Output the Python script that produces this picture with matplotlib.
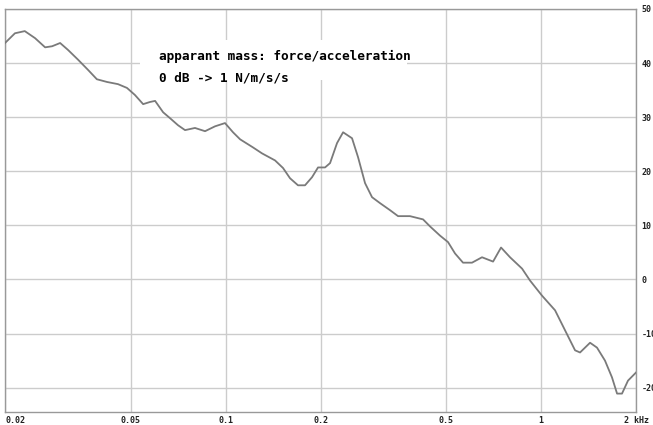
import matplotlib
matplotlib.use('Agg')
import matplotlib.pyplot as plt
from matplotlib.patches import Rectangle

# apparent mass response, frequency in kHz, level in dB
freq_khz = [0.0200, 0.0215, 0.0231, 0.0249, 0.0268, 0.0282, 0.0299, 0.0317, 0.0341,
            0.0367, 0.0391, 0.0421, 0.0456, 0.0487, 0.0516, 0.0548, 0.0576, 0.0598,
            0.0634, 0.0667, 0.0707, 0.0744, 0.0800, 0.0861, 0.0926, 0.0996, 0.1056,
            0.1112, 0.1222, 0.1305, 0.1435, 0.1521, 0.1601, 0.1697, 0.1786, 0.1880,
            0.1964, 0.2067, 0.2144, 0.2256, 0.2358, 0.2517, 0.2630, 0.2768, 0.2913,
            0.3088, 0.3322, 0.3522, 0.3842, 0.4227, 0.4448, 0.4784, 0.5072, 0.5338,
            0.5658, 0.6042, 0.6500, 0.7046, 0.7468, 0.7974, 0.8706, 0.9226, 1.0072,
            1.1076, 1.1914, 1.2818, 1.3292, 1.4300, 1.5042, 1.5946, 1.6782, 1.7416,
            1.8054, 1.8864, 2.0000]
level_db = [43.7, 45.5, 45.9, 44.6, 42.9, 43.1, 43.7, 42.4, 40.6,
            38.7, 37.0, 36.5, 36.1, 35.4, 34.1, 32.4, 32.8, 33.0,
            30.9, 29.8, 28.5, 27.6, 28.0, 27.4, 28.3, 28.9, 27.2,
            25.9, 24.4, 23.3, 22.0, 20.6, 18.7, 17.4, 17.4, 18.9,
            20.7, 20.7, 21.5, 25.2, 27.2, 26.1, 22.6, 17.8, 15.2,
            14.1, 12.8, 11.7, 11.7, 11.1, 9.8, 8.1, 6.9, 4.8,
            3.1, 3.1, 4.1, 3.3, 5.9, 4.1, 2.0, -0.2, -3.0,
            -5.7, -9.4, -13.1, -13.5, -11.7, -12.6, -15.0, -18.1, -21.1,
            -21.1, -18.7, -17.2]

x_ticks = [0.02, 0.05, 0.1, 0.2, 0.5, 1, 2]
x_tick_labels = ['0.02', '0.05', '0.1', '0.2', '0.5', '1', '2 kHz']
y_ticks = [50, 40, 30, 20, 10, 0, -10, -20]
y_tick_labels = ['50', '40', '30', '20', '10', '0', '-10', '-20']
note_lines = ['apparant mass: force/acceleration', '0 dB -> 1 N/m/s/s']

fig = plt.figure(figsize=(6.53, 4.25), dpi=100)
ax = fig.add_axes([0.0077, 0.0306, 0.9663, 0.9484])

ax.plot(freq_khz, level_db, color='#7a7a7a', lw=1.3, zorder=3)

ax.set_xscale('log')
ax.set_xlim(0.02, 2)
ax.set_ylim(-24.5, 50)

ax.set_xticks(x_ticks)
ax.set_xticklabels(x_tick_labels)
ax.xaxis.set_minor_locator(matplotlib.ticker.NullLocator())
ax.set_yticks(y_ticks)
ax.set_yticklabels(y_tick_labels)
ax.yaxis.tick_right()

ax.tick_params(axis='both', length=0, labelsize=6, colors='#222222')
ax.tick_params(axis='x', pad=3)
ax.tick_params(axis='y', pad=4)
for lab in ax.get_xticklabels() + ax.get_yticklabels():
    lab.set_family('DejaVu Sans Mono')
    lab.set_fontweight('bold')
ax.get_xticklabels()[0].set_horizontalalignment('left')

ax.grid(True, color='#cccccc', lw=1.0, zorder=1)
for s in ax.spines.values():
    s.set_color('#999999')
    s.set_linewidth(1.0)

# white panel behind the note, hides the grid
ax.add_patch(Rectangle((0.214, 0.824), 0.423, 0.099, transform=ax.transAxes,
                       facecolor='white', edgecolor='none', zorder=2))
for txt, ty in zip(note_lines, [0.881, 0.829]):
    ax.text(0.244, ty, txt, transform=ax.transAxes, family='DejaVu Sans Mono',
            fontweight='bold', fontsize=9.2, va='center', ha='left', zorder=4)

fig.savefig('out.png', dpi=100)
